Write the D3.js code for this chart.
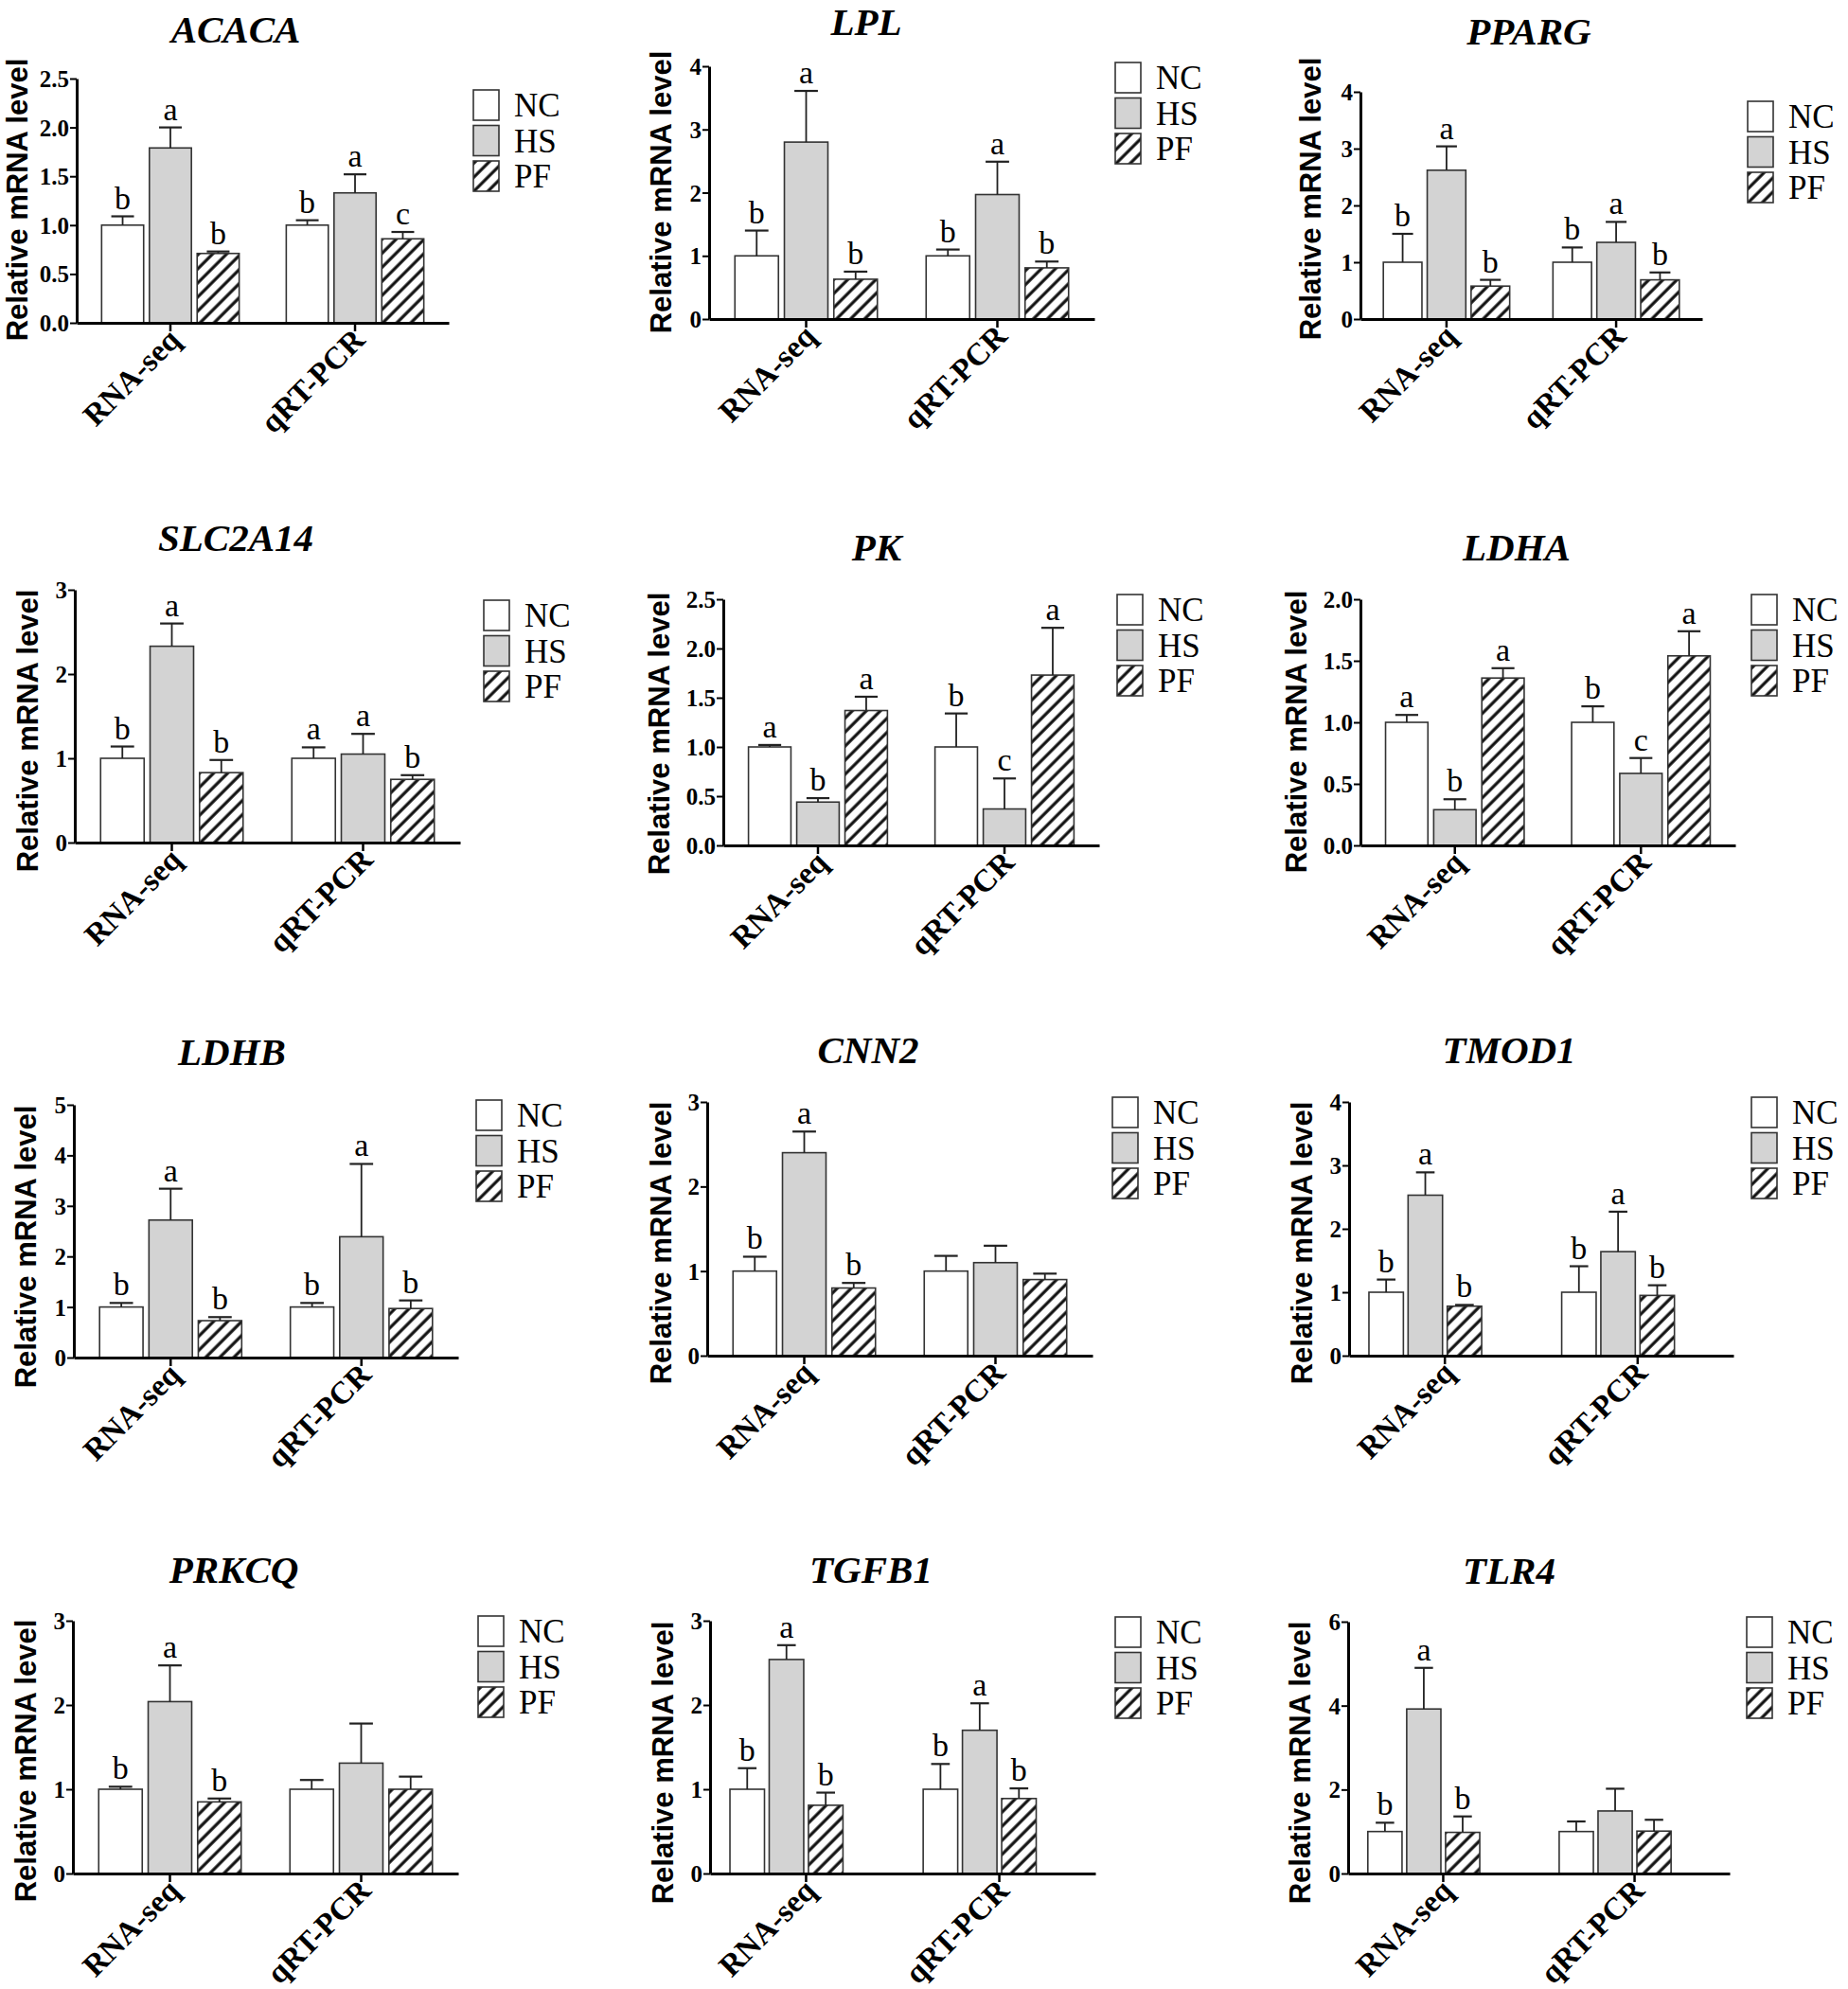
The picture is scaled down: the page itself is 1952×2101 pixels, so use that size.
<!DOCTYPE html>
<html>
<head>
<meta charset="utf-8">
<script src="https://cdn.jsdelivr.net/npm/d3@7"></script>
<style>
  body { margin: 0; background: #fff; }
</style>
</head>
<body>
<div id="chart"></div>
<script>
// ---- data ----
const GENES = ["ACACA", "LPL", "PPARG", "SLC2A14", "PK", "LDHA", "LDHB", "CNN2", "TMOD1", "PRKCQ", "TGFB1", "TLR4"];
const METHODS = ["RNA-seq", "qRT-PCR"];
const GROUPS = ["NC", "HS", "PF"];

// y axis: max value, tick step, decimals on tick labels
const Y_MAX = [2.5, 4, 4, 3, 2.5, 2.0, 5, 3, 4, 3, 3, 6];
const Y_STEP = [0.5, 1, 1, 1, 0.5, 0.5, 1, 1, 1, 1, 1, 2];
const Y_DEC = [1, 0, 0, 0, 1, 1, 0, 0, 0, 0, 0, 0];

// per gene: RNA-seq NC, HS, PF, then qRT-PCR NC, HS, PF
const MEAN = [
  [1.0, 1.79, 0.71, 1.0, 1.33, 0.86],
  [1.0, 2.80, 0.63, 1.0, 1.97, 0.81],
  [1.0, 2.62, 0.58, 1.0, 1.35, 0.69],
  [1.0, 2.33, 0.83, 1.0, 1.05, 0.75],
  [1.0, 0.44, 1.37, 1.0, 0.37, 1.73],
  [1.0, 0.29, 1.36, 1.0, 0.585, 1.54],
  [1.0, 2.72, 0.73, 1.0, 2.39, 0.97],
  [1.0, 2.40, 0.80, 1.0, 1.10, 0.90],
  [1.0, 2.53, 0.78, 1.0, 1.64, 0.95],
  [1.0, 2.04, 0.85, 1.0, 1.31, 1.0],
  [1.0, 2.54, 0.81, 1.0, 1.70, 0.89],
  [1.0, 3.92, 0.98, 1.0, 1.49, 1.01]
];
const SEM = [
  [0.09, 0.21, 0.02, 0.05, 0.19, 0.07],
  [0.40, 0.81, 0.12, 0.10, 0.52, 0.10],
  [0.50, 0.42, 0.11, 0.26, 0.36, 0.13],
  [0.14, 0.27, 0.15, 0.13, 0.24, 0.05],
  [0.02, 0.04, 0.14, 0.34, 0.31, 0.48],
  [0.06, 0.085, 0.08, 0.13, 0.125, 0.20],
  [0.08, 0.62, 0.07, 0.08, 1.44, 0.16],
  [0.17, 0.25, 0.06, 0.18, 0.20, 0.07],
  [0.20, 0.36, 0.02, 0.41, 0.63, 0.16],
  [0.03, 0.43, 0.04, 0.11, 0.47, 0.15],
  [0.25, 0.17, 0.15, 0.30, 0.32, 0.12],
  [0.21, 0.98, 0.38, 0.24, 0.53, 0.27]
];
const LETTERS = [
  ["b", "a", "b", "b", "a", "c"],
  ["b", "a", "b", "b", "a", "b"],
  ["b", "a", "b", "b", "a", "b"],
  ["b", "a", "b", "a", "a", "b"],
  ["a", "b", "a", "b", "c", "a"],
  ["a", "b", "a", "b", "c", "a"],
  ["b", "a", "b", "b", "a", "b"],
  ["b", "a", "b", "", "", ""],
  ["b", "a", "b", "b", "a", "b"],
  ["b", "a", "b", "", "", ""],
  ["b", "a", "b", "b", "a", "b"],
  ["b", "a", "b", "", "", ""]
];

// ---- layout (page pixels) ----
// axis x, axis end x, top tick y, baseline y
const PANEL_BOX = [
  [81, 474, 83, 341], [749, 1156, 70, 337], [1437, 1798, 97, 337],
  [79, 486, 623, 890], [764, 1161, 633, 893], [1437, 1833, 633, 893],
  [78, 484, 1167, 1434], [747, 1154, 1164, 1432], [1425, 1831, 1164, 1432],
  [77, 484, 1712, 1979], [750, 1157, 1712, 1979], [1424, 1827, 1713, 1979]
];
const SLOTS = [3, 3, 3, 3, 3, 3, 3, 3, 4, 3, 4, 4];
const TITLE_POS = [
  [249, 45], [915, 37], [1615, 47],
  [249, 582], [926, 592], [1602, 592],
  [245, 1125], [917, 1123], [1594, 1123],
  [247, 1672], [920, 1672], [1594, 1673]
];
const LEGEND_POS = [
  [500, 95], [1178, 66], [1846, 107],
  [511, 634], [1180, 628], [1850, 628],
  [503, 1162], [1175, 1159], [1850, 1159],
  [505, 1707], [1178, 1708], [1845, 1708]
];
const YLABEL_POS = [
  [29, 211], [709, 203], [1395, 210],
  [40, 772], [707, 775], [1380, 773],
  [38, 1317], [709, 1313], [1386, 1313],
  [38, 1860], [711, 1862], [1384, 1862]
];

const SERIF = "'Liberation Serif', 'Times New Roman', serif";
const SANS = "'Liberation Sans', Arial, sans-serif";

const svg = d3.select("#chart").append("svg")
  .attr("width", 1952)
  .attr("height", 2101)
  .style("background", "#fff");

const hatch = svg.append("defs").append("pattern")
  .attr("id", "hatch")
  .attr("patternUnits", "userSpaceOnUse")
  .attr("width", 10.5)
  .attr("height", 10.5)
  .attr("patternTransform", "rotate(45)");
hatch.append("rect").attr("width", 10.5).attr("height", 10.5).attr("fill", "#fff");
hatch.append("line")
  .attr("x1", 2).attr("y1", 0).attr("x2", 2).attr("y2", 10.5)
  .attr("stroke", "#111").attr("stroke-width", 3.2);

const fill = d3.scaleOrdinal(GROUPS, ["#ffffff", "#d3d3d3", "url(#hatch)"]);

GENES.forEach((gene, gi) => {
  const [ax, axEnd, top, base] = PANEL_BOX[gi];
  const four = SLOTS[gi] === 4;
  const g = svg.append("g");

  const y = d3.scaleLinear().domain([0, Y_MAX[gi]]).range([base, top]);
  const x0 = d3.scaleBand()
    .domain(METHODS)
    .range([ax, axEnd])
    .paddingInner(four ? 0.212 : 0.255)
    .paddingOuter(four ? 0.103 : 0.135);
  const x1 = d3.scaleBand()
    .domain(four ? [...GROUPS, "blank"] : GROUPS)
    .range([0, x0.bandwidth()])
    .paddingInner(0.12);

  const bars = [];
  METHODS.forEach((m, mi) => {
    GROUPS.forEach((s, si) => {
      const k = mi * 3 + si;
      bars.push({ method: m, group: s, mean: MEAN[gi][k], sem: SEM[gi][k], letter: LETTERS[gi][k] });
    });
  });

  // bars
  g.selectAll("rect.bar")
    .data(bars)
    .join("rect")
    .attr("class", "bar")
    .attr("x", (d) => x0(d.method) + x1(d.group))
    .attr("y", (d) => y(d.mean))
    .attr("width", x1.bandwidth())
    .attr("height", (d) => y(0) - y(d.mean))
    .attr("fill", (d) => fill(d.group))
    .attr("stroke", "#333")
    .attr("stroke-width", 1.6);

  // error bars (upper only)
  const cx = (d) => x0(d.method) + x1(d.group) + x1.bandwidth() / 2;
  const capW = x1.bandwidth() * 0.27;
  const err = g.selectAll("g.err").data(bars).join("g").attr("class", "err");
  err.append("line")
    .attr("x1", cx).attr("x2", cx)
    .attr("y1", (d) => y(d.mean))
    .attr("y2", (d) => y(d.mean + d.sem))
    .attr("stroke", "#222").attr("stroke-width", 1.8);
  err.append("line")
    .attr("x1", (d) => cx(d) - capW).attr("x2", (d) => cx(d) + capW)
    .attr("y1", (d) => y(d.mean + d.sem))
    .attr("y2", (d) => y(d.mean + d.sem))
    .attr("stroke", "#222").attr("stroke-width", 2.2);

  // significance letters
  g.selectAll("text.sig")
    .data(bars.filter((d) => d.letter))
    .join("text")
    .attr("class", "sig")
    .attr("x", cx)
    .attr("y", (d) => y(d.mean + d.sem) - 8)
    .attr("text-anchor", "middle")
    .style("font-family", SERIF)
    .style("font-size", "34px")
    .text((d) => d.letter);

  // y axis
  const ticks = d3.range(0, Y_MAX[gi] + 1e-6, Y_STEP[gi]);
  const yAxis = g.append("g")
    .attr("transform", `translate(${ax},0)`)
    .call(
      d3.axisLeft(y)
        .tickValues(ticks)
        .tickFormat(d3.format(Y_DEC[gi] ? ".1f" : "d"))
        .tickSize(7)
        .tickSizeOuter(0)
        .tickPadding(1)
    );
  yAxis.select(".domain").attr("stroke", "#000").attr("stroke-width", 3);
  yAxis.selectAll(".tick line").attr("stroke", "#000").attr("stroke-width", 2);
  yAxis.selectAll(".tick text")
    .style("font-family", SERIF)
    .style("font-weight", "bold")
    .style("font-size", "25px")
    .attr("dy", "0.34em");

  // x axis
  const xAxis = g.append("g")
    .attr("transform", `translate(0,${base})`)
    .call(d3.axisBottom(x0).tickSize(9).tickSizeOuter(0));
  xAxis.select(".domain").attr("stroke", "#000").attr("stroke-width", 3.2);
  xAxis.selectAll(".tick line").attr("stroke", "#000").attr("stroke-width", 2.5);
  xAxis.selectAll(".tick text")
    .attr("x", 0).attr("y", 0).attr("dy", 0)
    .attr("text-anchor", "end")
    .attr("transform", "translate(12,20) rotate(-45)")
    .style("font-family", SERIF)
    .style("font-weight", "bold")
    .style("font-size", "33px");

  // y label
  const [lx, ly] = YLABEL_POS[gi];
  g.append("text")
    .attr("transform", `translate(${lx},${ly}) rotate(-90)`)
    .attr("text-anchor", "middle")
    .style("font-family", SANS)
    .style("font-weight", "bold")
    .style("font-size", "31px")
    .text("Relative mRNA level");

  // title
  const [tx, ty] = TITLE_POS[gi];
  g.append("text")
    .attr("x", tx).attr("y", ty)
    .attr("text-anchor", "middle")
    .style("font-family", SERIF)
    .style("font-weight", "bold")
    .style("font-style", "italic")
    .style("font-size", "41px")
    .text(gene);

  // legend
  const [gx, gy] = LEGEND_POS[gi];
  const leg = g.selectAll("g.leg")
    .data(GROUPS)
    .join("g")
    .attr("class", "leg")
    .attr("transform", (d, i) => `translate(${gx},${gy + i * 37.5})`);
  leg.append("rect")
    .attr("width", 27).attr("height", 32)
    .attr("fill", (d) => fill(d))
    .attr("stroke", "#333").attr("stroke-width", 1.6);
  leg.append("text")
    .attr("x", 43).attr("y", 28)
    .style("font-family", SERIF)
    .style("font-size", "35px")
    .text((d) => d);
});
</script>
</body>
</html>
